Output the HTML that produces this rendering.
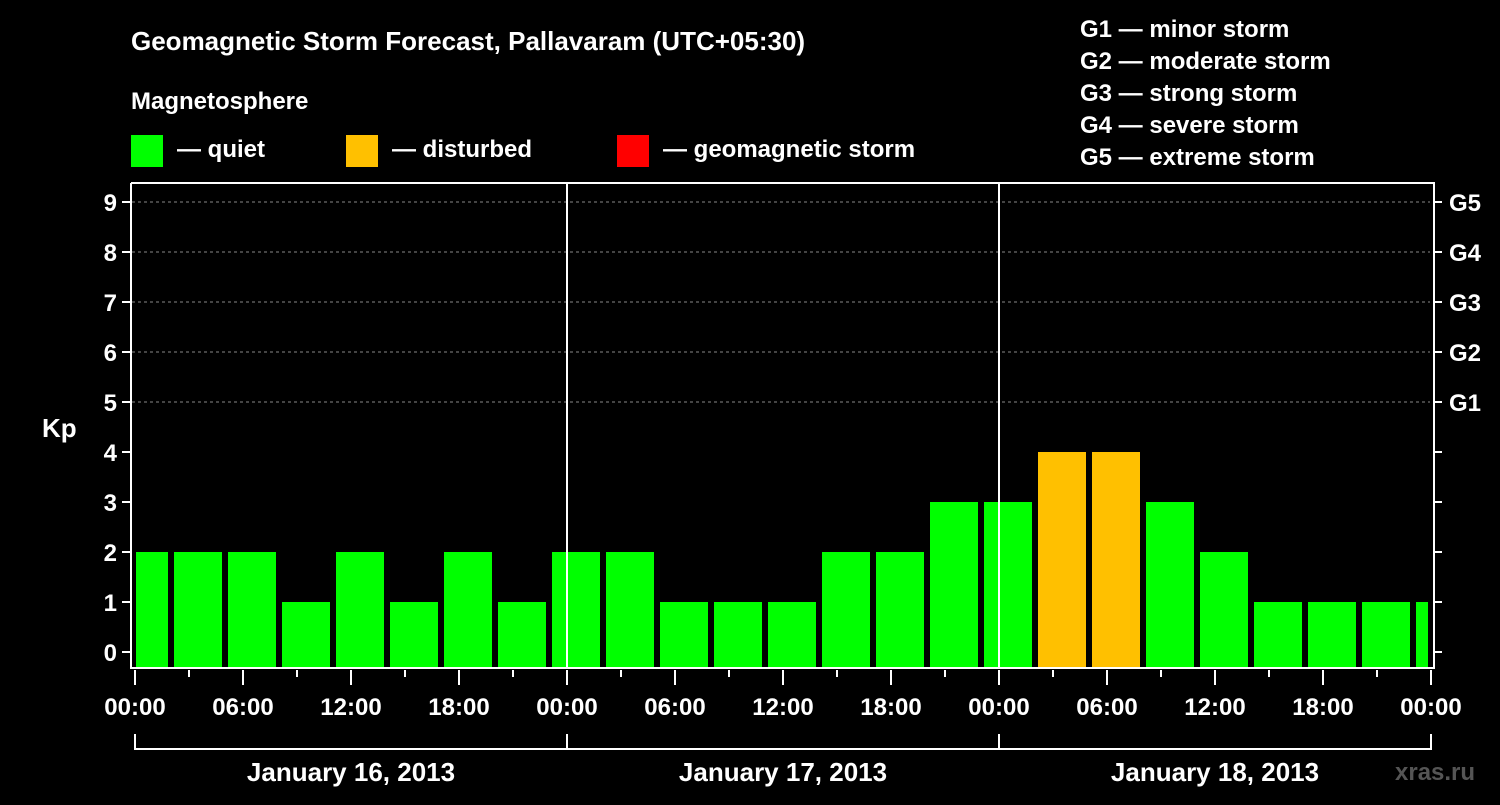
<!DOCTYPE html>
<html><head><meta charset="utf-8"><style>
body{margin:0;background:#000;width:1500px;height:800px;overflow:hidden;font-family:"Liberation Sans",Arial,sans-serif}
svg text{font-family:"Liberation Sans",Arial,sans-serif;font-weight:bold;fill:#fff}
</style></head><body>
<svg width="1500" height="800">
<g id="hdr">
<text x="131" y="50" font-size="26">Geomagnetic Storm Forecast, Pallavaram (UTC+05:30)</text>
<text x="131" y="109" font-size="24">Magnetosphere</text>
<rect x="131" y="135" width="32" height="32" fill="#00ff00"/>
<text x="177" y="157" font-size="24">— quiet</text>
<rect x="346" y="135" width="32" height="32" fill="#ffc000"/>
<text x="392" y="157" font-size="24">— disturbed</text>
<rect x="617" y="135" width="32" height="32" fill="#ff0000"/>
<text x="663" y="157" font-size="24">— geomagnetic storm</text>
<text x="1080" y="37" font-size="24">G1 — minor storm</text>
<text x="1080" y="69" font-size="24">G2 — moderate storm</text>
<text x="1080" y="101" font-size="24">G3 — strong storm</text>
<text x="1080" y="133" font-size="24">G4 — severe storm</text>
<text x="1080" y="165" font-size="24">G5 — extreme storm</text>
<text x="42" y="437" font-size="26">Kp</text>
<text x="1395" y="780" font-size="24" fill="#666" style="fill:#555">xras.ru</text>
</g>
<g id="chart"></g>
</svg>
<script>
const kpValues=[2,2,2,1,2,1,2,1,2,2,1,1,1,2,2,3,3,4,4,3,2,1,1,1,1];
const timeLabels=["00:00","06:00","12:00","18:00","00:00","06:00","12:00","18:00","00:00","06:00","12:00","18:00","00:00"];
const dayLabels=["January 16, 2013","January 17, 2013","January 18, 2013"];
const gLabels=["G1","G2","G3","G4","G5"];
const NS="http://www.w3.org/2000/svg";
const g=document.getElementById('chart');
const L=132,R=1430,T=183,B=668,X0=135,DAY=432;
const yS=v=>652-50*v;
const xS=h=>X0+h*(DAY/24);
function el(t,a){const e=document.createElementNS(NS,t);for(const k in a)e.setAttribute(k,a[k]);g.appendChild(e);return e;}
// grid
for(let k=5;k<=9;k++){const e=el('line',{x1:L,x2:R,y1:yS(k),y2:yS(k),stroke:'#888','stroke-dasharray':'3,3','stroke-width':1});

}
// bars
const clip=el('clipPath',{id:'pc'});const cr=document.createElementNS(NS,'rect');cr.setAttribute('x',L);cr.setAttribute('y',T);cr.setAttribute('width',R-L-2);cr.setAttribute('height',B-T);clip.appendChild(cr);
kpValues.forEach((v,i)=>{const c=xS(i*3+0.5)+0;const x=c-24;let x1=Math.max(x,136);const x2=Math.min(x+48,1428);
const col=v>=5?'#ff0000':v>=4?'#ffc000':'#00ff00';
const b=el('rect',{x:x1,y:yS(v),width:x2-x1,height:B-yS(v),fill:col});

});
// day separators
[1,2].forEach(d=>{const e=el('line',{x1:X0+d*DAY,x2:X0+d*DAY,y1:T,y2:B,stroke:'#fff','stroke-width':2});

});
// frame
const f=el('path',{d:`M${L-1} ${T}H${R+5}M${L-1} ${T}V${B}H${R+5}M${1434} ${T}V${B}`,stroke:'#fff','stroke-width':2,fill:'none'});


// y ticks
for(let k=0;k<=9;k++){const y=yS(k);
el('line',{x1:122,x2:L,y1:y,y2:y,stroke:'#fff','stroke-width':2});
el('line',{x1:1434,x2:1442,y1:y,y2:y,stroke:'#fff','stroke-width':2});
const t=el('text',{x:117,y:y+9,'font-size':24,'text-anchor':'end'});t.textContent=k;

}
gLabels.forEach((s,i)=>{const t=el('text',{x:1449,y:yS(5+i)+9,'font-size':24});t.textContent=s;

});
// x ticks
for(let h=0;h<=72;h+=3){const x=xS(h);const major=h%6===0;
el('line',{x1:x,x2:x,y1:B+2,y2:B+(major?17:9),stroke:'#fff','stroke-width':2});}
timeLabels.forEach((s,i)=>{const t=el('text',{x:xS(i*6),y:715,'font-size':24,'text-anchor':'middle'});t.textContent=s;

});
// bracket
el('path',{d:`M${X0} 734V749H${X0+3*DAY}V734M${X0+DAY} 734V749M${X0+2*DAY} 734V749`,stroke:'#fff','stroke-width':2,fill:'none'});
dayLabels.forEach((s,i)=>{const t=el('text',{x:X0+DAY*(i+0.5),y:781,'font-size':26,'text-anchor':'middle'});t.textContent=s;

});
</script>
</body></html>
